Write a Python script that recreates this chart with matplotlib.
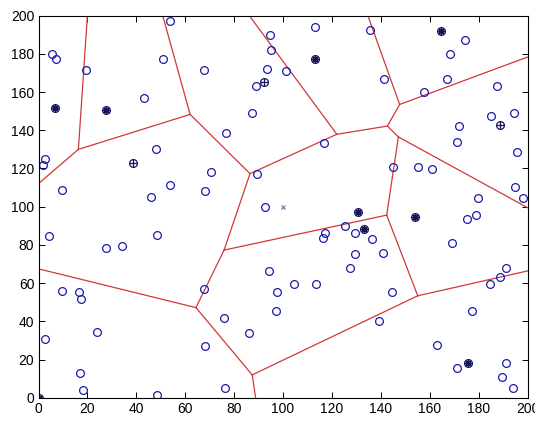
import matplotlib
matplotlib.use("Agg")
import matplotlib.pyplot as plt
import numpy as np

# sensor nodes (plain circles)
node_x = [5.4, 7.2, 19.4, 43.1, 2.7, 1.7, 48.2, 9.7, 46.1, 53.6, 51.0, 67.7, 76.7, 70.4, 53.8,
          68.1, 87.4, 89.1, 93.3, 95.0, 94.7, 89.2, 92.6, 113.1, 135.6, 101.1, 141.1, 116.8,
          144.9, 174.4, 168.3, 167.0, 157.7, 187.7, 194.5, 184.9, 172.0, 171.0, 195.8, 155.1,
          161.1, 195.0, 198.3, 179.9, 4.3, 27.6, 34.0, 48.5, 9.7, 16.6, 17.5, 23.8, 2.7, 17.0,
          18.3, 48.5, 94.3, 97.6, 97.2, 67.7, 75.9, 86.2, 68.1, 76.3, 125.4, 129.3, 117.2,
          116.3, 136.3, 140.7, 129.3, 127.4, 104.5, 113.6, 144.7, 139.3, 178.9, 175.3, 169.3,
          191.3, 188.6, 184.8, 177.5, 162.9, 171.0, 191.3, 189.4, 194.2]
node_y = [180.0, 177.4, 171.6, 156.8, 124.8, 121.7, 130.0, 108.6, 105.2, 197.4, 177.4, 171.6,
          138.6, 118.0, 111.6, 108.1, 149.2, 163.4, 172.2, 182.0, 189.7, 117.0, 99.7, 193.9,
          192.2, 170.9, 166.6, 133.4, 120.9, 187.4, 179.7, 166.9, 160.0, 162.9, 149.2, 147.6,
          142.2, 134.1, 128.6, 120.8, 119.9, 110.3, 104.6, 104.6, 84.6, 78.2, 79.4, 85.1, 55.9,
          55.2, 51.5, 34.6, 30.6, 12.9, 4.2, 1.4, 66.5, 55.2, 45.3, 56.9, 41.8, 34.1, 27.2, 5.1,
          89.8, 86.2, 86.4, 83.4, 82.9, 75.8, 75.1, 68.0, 59.4, 59.4, 55.2, 40.2, 95.8, 93.5,
          81.1, 68.1, 63.3, 59.4, 45.6, 27.7, 15.8, 18.1, 11.1, 5.2]

# cluster heads drawn with an asterisk
star_x = [6.7, 27.6, 113.1, 164.5, 130.5, 133.1, 154.0, 175.8, 0.0]
star_y = [151.6, 150.4, 177.4, 191.8, 97.3, 88.1, 94.7, 18.1, 0.0]

# cluster heads drawn with a plus
plus_x = [38.5, 92.1, 188.8]
plus_y = [122.9, 165.0, 142.9]

# base station
bs_x = [100]
bs_y = [100]

# voronoi vertices and edges
vert_x = [20.0, 16.3, 0.0, 62.0, 50.8, 86.5, 122.0, 86.2, 142.7, 147.7, 134.7, 200.0,
          147.2, 200.0, 142.4, 75.9, 155.1, 64.4, 0.0, 87.4, 88.8, 200.0]
vert_y = [200.0, 130.0, 112.1, 148.3, 200.0, 117.3, 137.9, 200.0, 142.2, 153.5, 200.0, 178.3,
          136.5, 99.5, 95.6, 77.3, 53.4, 47.2, 67.5, 12.0, 0.0, 66.4]
edges = [(0, 1), (2, 1), (1, 3), (3, 4), (3, 5), (5, 6), (6, 7), (6, 8), (8, 9), (9, 10),
         (9, 11), (8, 12), (12, 13), (12, 14), (14, 15), (14, 16), (5, 15), (15, 17),
         (17, 18), (17, 19), (19, 20), (19, 16), (16, 21)]

plt.rcParams['font.family'] = ['Liberation Sans', 'DejaVu Sans']

fig = plt.figure(figsize=(5.35, 4.21), dpi=100)
ax = fig.add_axes([0.072, 0.055, 0.914, 0.908])

line_col = '#d03838'
for a, b in edges:
    ax.plot([vert_x[a], vert_x[b]], [vert_y[a], vert_y[b]], color=line_col, lw=0.9)

blue = '#1c1ca8'
ax.plot(node_x, node_y, 'o', mfc='none', mec=blue, ms=5.6, mew=0.9, ls='none')
ax.plot(star_x, star_y, 'o', mfc='none', mec='#14145a', ms=5.6, mew=0.9, ls='none')
ax.plot(star_x, star_y, marker=(8, 2, 0), color='#14145a', ms=5.0, mew=0.9, ls='none')
ax.plot(plus_x, plus_y, 'o', mfc='none', mec='#14145a', ms=5.6, mew=0.9, ls='none')
ax.plot(plus_x, plus_y, '+', color='#14145a', ms=5.6, mew=0.9, ls='none')
ax.plot(bs_x, bs_y, 'x', color='#6070a8', ms=3.5, mew=0.8, ls='none')

ax.set_xlim(0, 200)
ax.set_ylim(0, 200)
ax.set_xticks(np.arange(0, 201, 20))
ax.set_yticks(np.arange(0, 201, 20))
ax.tick_params(direction='in', length=4, width=0.7, top=True, right=True,
               labelsize=10, pad=3)
for s in ax.spines.values():
    s.set_linewidth(0.8)

fig.savefig('out.png', dpi=100)
